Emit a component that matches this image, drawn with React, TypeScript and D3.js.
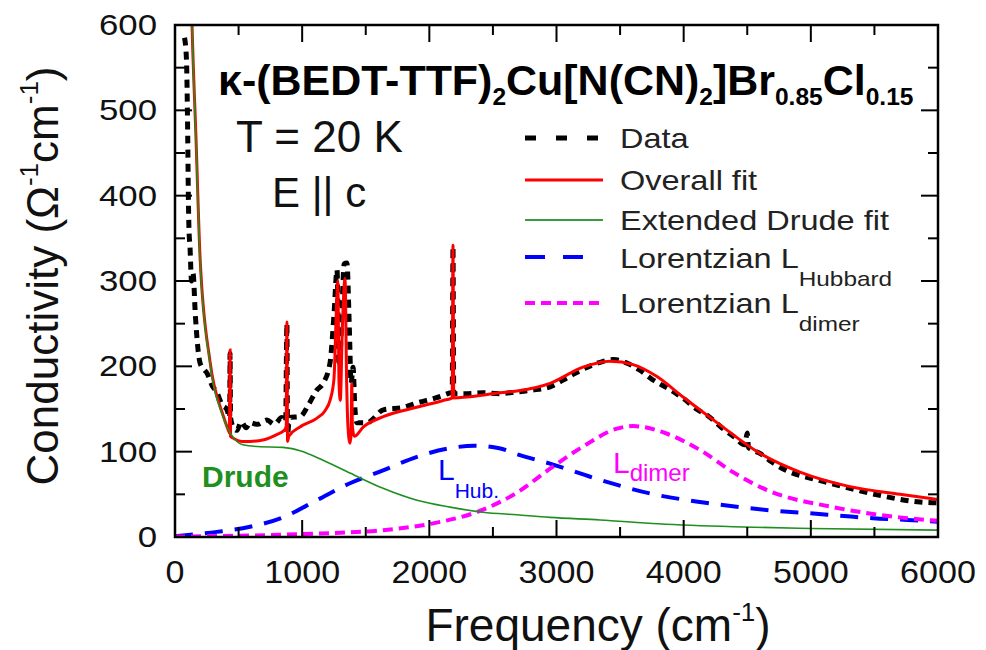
import React from "react";
import * as d3 from "d3";

const W = 986;
const H = 650;
const PL = 175, PR = 938, PT = 25, PB = 537;

const xTicks = [0, 1000, 2000, 3000, 4000, 5000, 6000];
const yTicks = [0, 100, 200, 300, 400, 500, 600];

// Measured data (frequency cm^-1, conductivity)
const dataFreq = [75, 90, 100, 105, 110, 118, 130, 142, 160, 197, 230, 252, 290, 330, 370, 409, 430, 433, 437, 460, 488, 520, 560, 590, 650, 723, 780, 840, 870, 880, 885, 900, 983, 1050, 1114, 1164, 1219, 1250, 1274, 1290, 1310, 1330, 1352, 1370, 1385, 1400, 1415, 1431, 1510, 1638, 1800, 1900, 2050, 2162, 2180, 2186, 2192, 2300, 2422, 2556, 2689, 2800, 2949, 3100, 3200, 3350, 3450, 3550, 3650, 3759, 3900, 4000, 4100, 4200, 4300, 4400, 4480, 4500, 4510, 4600, 4702, 4836, 4970, 5127, 5363, 5599, 5858, 6000];
const dataCond = [585, 560, 470, 400, 360, 340, 300, 309, 260, 204, 196, 192, 178, 169, 155, 149, 140, 215, 140, 128, 125, 135, 128, 134, 132, 137, 132, 140, 135, 250, 120, 140, 141, 155, 172, 180, 204, 260, 313, 200, 250, 320, 321, 250, 180, 199, 150, 134, 134, 149, 152, 157, 163, 169, 170, 340, 168, 168, 169, 168, 170, 172, 176, 188, 196, 205, 208, 204, 196, 184, 172, 162, 150, 141, 128, 117, 108, 122, 105, 98, 87, 76, 70, 64, 55, 47, 41, 40];

// Overall fit
const fitFreq = [110, 134, 165, 197, 275, 377, 420, 428, 433, 437, 456, 530, 590, 700, 800, 860, 875, 880, 885, 895, 983, 1114, 1180, 1219, 1250, 1270, 1280, 1290, 1300, 1315, 1337, 1350, 1360, 1376, 1385, 1390, 1395, 1410, 1481, 1638, 1900, 2110, 2180, 2186, 2192, 2293, 2556, 2689, 2949, 3208, 3421, 3602, 3790, 3995, 4262, 4600, 4915, 5308, 5701, 6000];
const fitCond = [760, 600, 468, 328, 206, 143, 125, 122, 219, 118, 116, 112, 112, 114, 120, 125, 130, 252, 112, 118, 129, 139, 148, 160, 185, 270, 300, 180, 160, 240, 303, 180, 130, 110, 120, 180, 130, 118, 129, 141, 152, 160, 163, 342, 163, 164, 169, 171, 180, 199, 206, 202, 188, 164, 134, 98, 76, 59, 50, 44];

// Extended Drude fit
const drudeFreq = [110, 134, 165, 197, 275, 377, 456, 535, 650, 849, 983, 1164, 1376, 1636, 1903, 2162, 2422, 2689, 2949, 3342, 3800, 4388, 5000, 6000];
const drudeCond = [760, 598, 465, 325, 204, 141, 117, 108, 106, 105, 101, 90, 75, 57, 43, 35, 29, 26, 23, 20, 15.5, 12, 10, 8];

// Lorentzian Hubbard
const hubFreq = [0, 330, 590, 849, 1114, 1376, 1636, 1903, 2162, 2350, 2550, 2689, 2949, 3342, 3735, 4128, 4443, 4702, 4970, 5229, 5489, 5756, 6000];
const hubCond = [1, 6, 12, 23, 43, 63, 78, 94, 104, 107, 104, 97, 86, 67, 51, 41, 35, 31, 28, 25, 22, 20, 18];

// Lorentzian dimer
const dimerFreq = [0, 500, 1114, 1636, 2029, 2422, 2689, 2949, 3208, 3476, 3602, 3869, 4128, 4388, 4655, 5174, 5701, 6000];
const dimerCond = [0.5, 1.5, 4, 8, 16, 32, 52, 80, 106, 127, 130, 121, 102, 76, 55, 35, 23, 19];

const FONT = "'Liberation Sans', Arial, Helvetica, sans-serif";
const GREEN = "#1f8f1f";

const x = d3.scaleLinear().domain([0, 6000]).range([PL, PR]);
const y = d3.scaleLinear().domain([0, 600]).range([PB, PT]);

const mk = (fx: number[], fy: number[]) =>
  d3
    .line<number>()
    .x((_, i) => x(fx[i]))
    .y((_, i) => y(fy[i]))
    .curve(d3.curveMonotoneX)(fx) as string;

function SText(props: any) {
  const { x: tx, y: ty, sx = 1, anchor = "start", size, weight = "normal", fill = "#111", children } = props;
  return (
    <text
      transform={`translate(${tx},${ty}) scale(${sx},1)`}
      textAnchor={anchor}
      fontSize={size}
      fontWeight={weight}
      fill={fill}
      fontFamily={FONT}
    >
      {children}
    </text>
  );
}

export default function App() {
  const xMinor = d3.range(0, 6001, 500);
  const yMinor = d3.range(0, 601, 50);
  const legendRows = [
    { y: 138, text: "Data" },
    { y: 180, text: "Overall fit" },
    { y: 220, text: "Extended Drude fit" },
    { y: 258, text: "Lorentzian L", sub: "Hubbard" },
    { y: 303, text: "Lorentzian L", sub: "dimer" },
  ];
  return (
    <svg width={W} height={H} style={{ position: "absolute", left: 0, top: 0, background: "#fff" }}>
      <defs>
        <clipPath id="plotclip">
          <rect x={PL} y={PT} width={PR - PL} height={PB - PT} />
        </clipPath>
      </defs>
      <rect width={W} height={H} fill="#fff" />
      <g clipPath="url(#plotclip)" fill="none">
        <path d={mk(dataFreq, dataCond)} stroke="#000" strokeWidth={5} strokeDasharray="8 6" />
        <path d={mk(hubFreq, hubCond)} stroke="#0000ff" strokeWidth={4} strokeDasharray="18 12" />
        <path d={mk(dimerFreq, dimerCond)} stroke="#ff00ff" strokeWidth={4} strokeDasharray="10 6" />
        <path d={mk(fitFreq, fitCond)} stroke="#ff0000" strokeWidth={3} />
        <path d={mk(drudeFreq, drudeCond)} stroke={GREEN} strokeWidth={1.6} />
      </g>
      {/* frame */}
      <rect x={PL} y={PT} width={PR - PL} height={PB - PT} fill="none" stroke="#000" strokeWidth={2.5} />
      {/* ticks */}
      <g stroke="#000" strokeWidth={2}>
        {xMinor.map((v) => {
          const len = v % 1000 === 0 ? 17 : 10;
          return (
            <g key={"xt" + v}>
              <line x1={x(v)} x2={x(v)} y1={PB} y2={PB - len} />
              <line x1={x(v)} x2={x(v)} y1={PT} y2={PT + len} />
            </g>
          );
        })}
        {yMinor.map((v) => {
          const len = v % 100 === 0 ? 17 : 10;
          return (
            <g key={"yt" + v}>
              <line x1={PL} x2={PL + len} y1={y(v)} y2={y(v)} />
              <line x1={PR} x2={PR - len} y1={y(v)} y2={y(v)} />
            </g>
          );
        })}
      </g>
      {/* tick labels */}
      {xTicks.map((v) => (
        <SText key={"xl" + v} x={x(v)} y={583} sx={1.1} anchor="middle" size={31}>
          {String(v)}
        </SText>
      ))}
      {yTicks.map((v) => (
        <SText key={"yl" + v} x={157} y={y(v) + 10} sx={1.2} anchor="end" size={29}>
          {String(v)}
        </SText>
      ))}
      {/* axis titles */}
      <text x={598} y={641} textAnchor="middle" fontSize={46} fontFamily={FONT} fill="#111">
        Frequency (cm<tspan fontSize={26} dy={-20}>-1</tspan>
        <tspan dy={20}>)</tspan>
      </text>
      <text
        transform={`translate(58,276) rotate(-90)`}
        textAnchor="middle"
        fontSize={44}
        fontFamily={FONT}
        fill="#111"
      >
        Conductivity (Ω<tspan fontSize={26} dy={-20}>-1</tspan>
        <tspan dy={20}>cm</tspan>
        <tspan fontSize={26} dy={-20}>-1</tspan>
        <tspan dy={20}>)</tspan>
      </text>
      {/* title */}
      <SText x={218} y={95} sx={1.023} size={42} weight="bold" fill="#000">
        κ-(BEDT-TTF)<tspan fontSize={24} dy={10}>2</tspan>
        <tspan dy={-10}>Cu[N(CN)</tspan>
        <tspan fontSize={24} dy={10}>2</tspan>
        <tspan dy={-10}>]Br</tspan>
        <tspan fontSize={24} dy={10}>0.85</tspan>
        <tspan dy={-10}>Cl</tspan>
        <tspan fontSize={24} dy={10}>0.15</tspan>
      </SText>
      <SText x={236} y={152} size={44}>T = 20 K</SText>
      <SText x={272} y={207} size={42}>E || c</SText>
      {/* legend */}
      <g fill="none">
        <line x1={525} x2={600} y1={138} y2={138} stroke="#000" strokeWidth={5} strokeDasharray="11 20" />
        <line x1={525} x2={603} y1={180} y2={180} stroke="#ff0000" strokeWidth={3} />
        <line x1={525} x2={603} y1={220} y2={220} stroke="#3c9c3c" strokeWidth={2} />
        <line x1={525} x2={585} y1={257} y2={257} stroke="#0000ff" strokeWidth={4} strokeDasharray="20 18" />
        <line x1={525} x2={603} y1={303} y2={303} stroke="#ff00ff" strokeWidth={4} strokeDasharray="10 6" />
      </g>
      {legendRows.map((r, i) => (
        <SText key={"lg" + i} x={620} y={r.y + 10} sx={1.16} size={28} fill="#222">
          {r.text}
          {r.sub ? (
            <tspan fontSize={21} dy={18}>
              {r.sub}
            </tspan>
          ) : null}
        </SText>
      ))}
      {/* in-plot annotations */}
      <SText x={202} y={487} size={30} weight="bold" fill={GREEN}>Drude</SText>
      <SText x={438} y={480} size={30} fill="#0000ff">
        L<tspan fontSize={21} dy={18}>Hub.</tspan>
      </SText>
      <SText x={613} y={473} size={30} fill="#ff00ff">
        L<tspan fontSize={24} dy={8}>dimer</tspan>
      </SText>
    </svg>
  );
}
